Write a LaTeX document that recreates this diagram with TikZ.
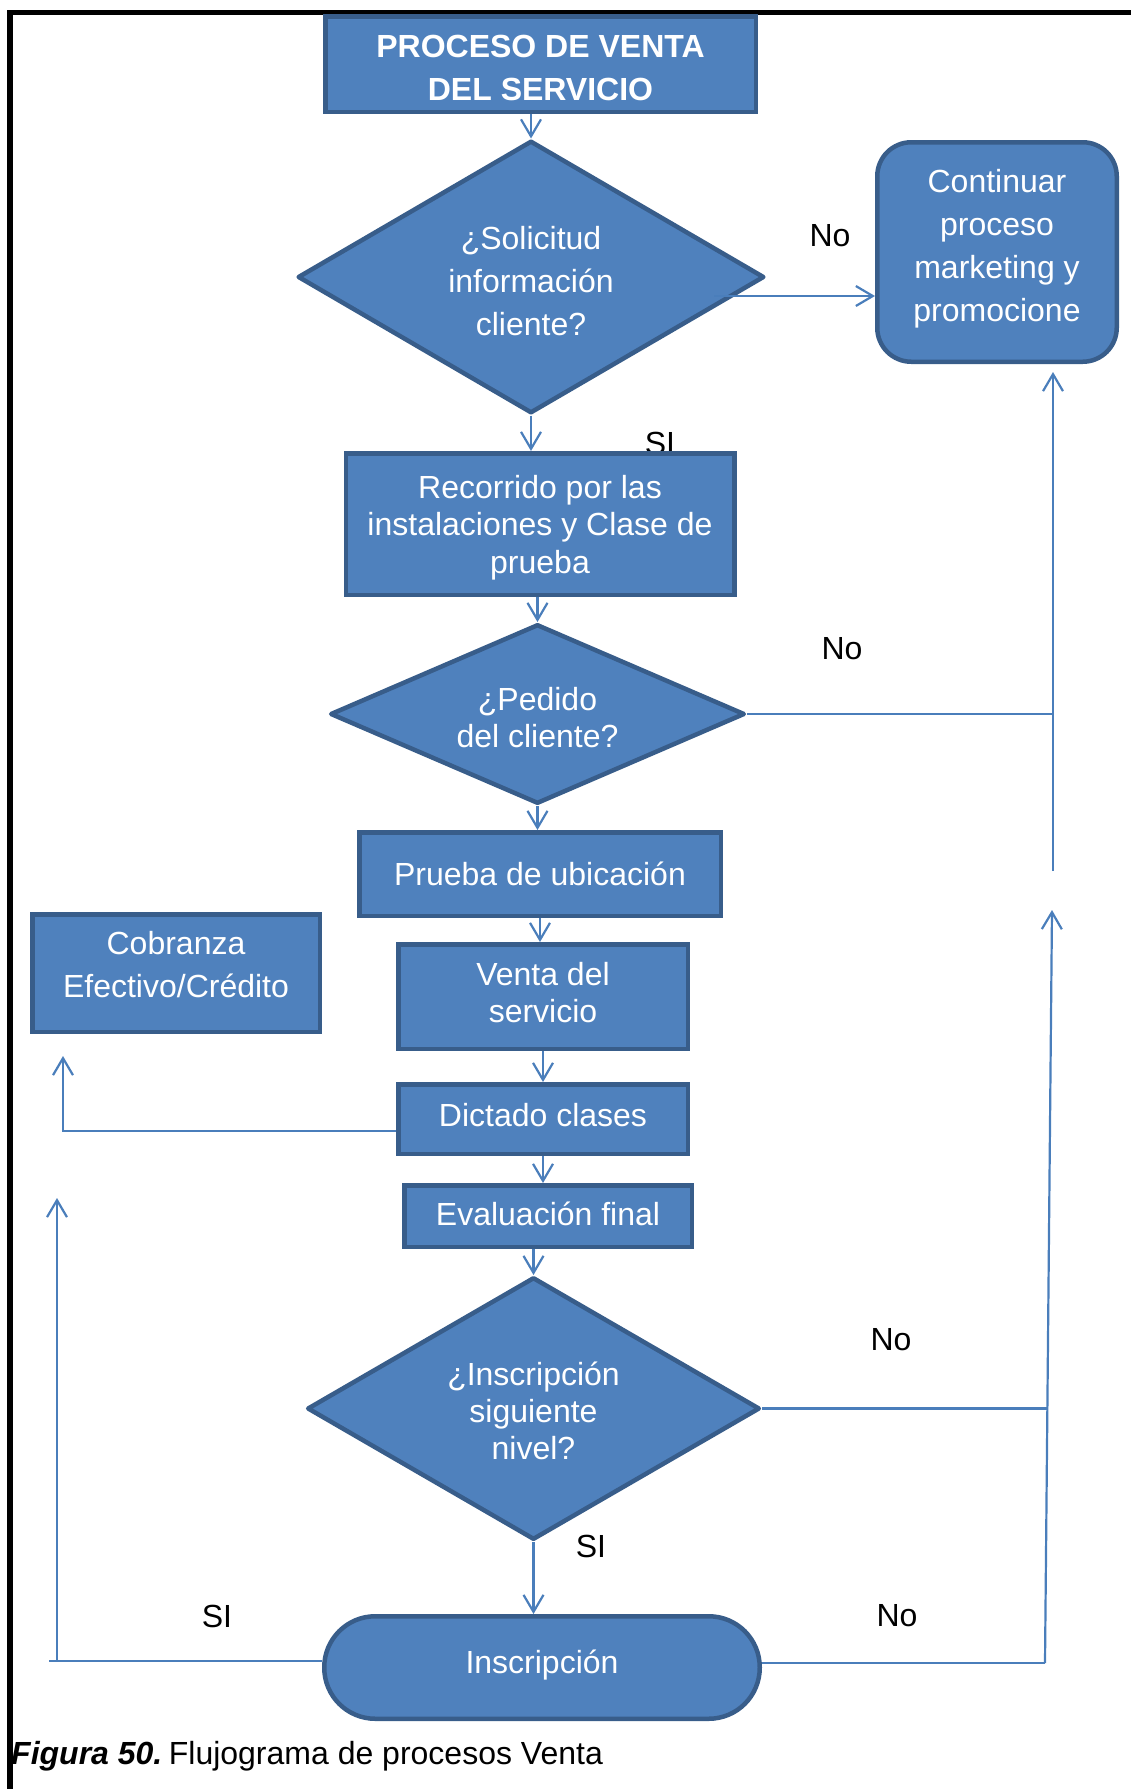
\documentclass[tikz,border=0pt]{standalone}
\usepackage{fontspec}
\setmainfont{Liberation Sans}
\usetikzlibrary{shapes.geometric,arrows.meta,calc}
\definecolor{boxfill}{HTML}{4F81BD}
\definecolor{boxline}{HTML}{385D8A}
\definecolor{conn}{HTML}{4A7EBB}
% invisible struts that set a box's first-line height or last-line depth
\newcommand\tophgt[1]{\rule{0pt}{#1}}
\newcommand\botdep[1]{\rule[-#1]{0pt}{0pt}}

\begin{document}
\begin{tikzpicture}[x=1pt,y=-1pt,
  every node/.style={font=\fontsize{32}{37.5}\selectfont},
  procbox/.style={draw=boxline, fill=boxfill, line width=4.5pt, text=white,
    align=center, inner sep=0pt},
  decision/.style={procbox, diamond, line join=round},
  arr/.style={draw=conn, line width=2.2pt, -{Straight Barb[length=17pt,width=20pt]}},
  conline/.style={draw=conn, line width=2.2pt},
  lbl/.style={text=black, inner sep=0pt},
  wide/.style={font=\fontsize{32}{43}\selectfont},
  narrow/.style={font=\fontsize{32}{37}\selectfont}
]
\useasboundingbox (0,0) rectangle (1131,1789);

% page frame (top and left edges)
\draw[line width=5.5pt, black] (1131,12.5) -- (10,12.5) -- (10,1789);

% label partly covered by the box drawn after it
\node[lbl] (si1) at (660,443) {SI};

% process steps
\node[procbox, minimum width=430.5pt, minimum height=95.5pt,
  font=\bfseries\fontsize{32}{43}\selectfont] (title) at (540.5,64)
  {\tophgt{31.3pt}PROCESO DE VENTA\\DEL SERVICIO};
\node[decision, wide, aspect=1.72, minimum width=466.5pt, minimum height=272.5pt]
  (d1) at (531,277) {\tophgt{30.9pt}¿Solicitud\\información\\cliente?};
\node[procbox, wide, rounded corners=34pt, minimum width=239.5pt, minimum height=219.5pt]
  (cont) at (997,252) {Continuar\\proceso\\marketing y\\promocione\botdep{12.5pt}};
\node[procbox, minimum width=388.5pt, minimum height=141.5pt]
  (rec) at (540,524) {\tophgt{30.1pt}Recorrido por las\\instalaciones y Clase de\\prueba};
\node[decision, narrow, aspect=2.3, minimum width=414.5pt, minimum height=179.5pt]
  (d2) at (537.5,714) {\tophgt{30.1pt}¿Pedido\\del cliente?};
\node[procbox, minimum width=361.5pt, minimum height=83.5pt]
  (pru) at (540,874) {Prueba de ubicación};
\node[procbox, wide, minimum width=287.5pt, minimum height=117.5pt]
  (cob) at (176,973) {Cobranza\\Efectivo/Crédito\botdep{16.5pt}};
\node[procbox, narrow, minimum width=289.5pt, minimum height=104.5pt]
  (ven) at (543,996.5) {Venta del\\servicio\botdep{9.2pt}};
\node[procbox, minimum width=289.5pt, minimum height=69.5pt]
  (dic) at (543,1119) {Dictado clases\botdep{9.2pt}};
\node[procbox, minimum width=287.5pt, minimum height=61.5pt]
  (eva) at (548,1216) {Evaluación final\botdep{4.6pt}};
\node[decision, narrow, aspect=1.72, minimum width=452.5pt, minimum height=262.5pt]
  (d3) at (533.5,1408.5) {\tophgt{29.1pt}¿Inscripción\\siguiente\\nivel?};
\node[procbox, rounded corners=51pt, minimum width=435.5pt, minimum height=102.5pt]
  (ins) at (542,1667.5) {Inscripción\botdep{11.3pt}};

% main flow
\draw[arr] (d1.north |- title.south) -- (d1.north);
\draw[arr] (d1.south) -- (d1.south |- rec.north);
\draw[arr] (rec.south -| d2.north) -- (d2.north);
\draw[arr] (d2.south) -- (d2.south |- pru.north);
\draw[arr] (pru.south) -- (pru.south |- ven.north);
\draw[arr] (ven.south) -- (ven.south |- dic.north);
\draw[arr] (dic.south) -- (dic.south |- eva.north);
\draw[arr] (eva.south -| d3.north) -- (d3.north);
\draw[arr] (d3.south) -- (d3.south |- ins.north);

% "No" branches on the right
\coordinate (d1no) at ($(d1.center)+(183,19)$);
\draw[arr] (d1no) -- (d1no -| cont.west);
\coordinate (railtop) at (1053,871);
\draw[conline] (d2.east) -- (d2.east -| railtop);
\draw[arr, shorten >=8pt] (railtop) -- (railtop |- cont.south);
\coordinate (railbot) at (1045,1663);
\coordinate (railmid) at (1052,910);
\coordinate (d3rail) at (1047.5,1408.5);
\draw[arr] (railbot) -- (railmid);
\draw[conline] (d3.east) -- (d3rail);
\draw[conline] (ins.east |- railbot) -- (railbot);

% branches on the left
\coordinate (cobtip) at (63,1056);
\draw[arr] ($(dic.west)+(0,12)$) -| (cobtip);
\coordinate (lefttail) at (49,1661);
\coordinate (leftup) at (57,1198);
\draw[conline] ($(ins.west)+(0,-6.5)$) -- (lefttail);
\draw[arr] (leftup |- lefttail) -- (leftup);

% branch labels
\node[lbl] (no1) at (830,236) {No};
\node[lbl] (no2) at (842,649) {No};
\node[lbl] (no3) at (891,1340) {No};
\node[lbl] (si3) at (591,1546) {SI};
\node[lbl] (no4) at (897,1616) {No};
\node[lbl] (si4) at (217,1616) {SI};

% caption
\node[anchor=base west, inner sep=0pt, font=\fontsize{32}{37}\selectfont] (cap) at (11,1764)
  {\textbf{\textit{Figura 50.}}\hspace{6.5pt}Flujograma de procesos Venta};
\end{tikzpicture}
\end{document}
